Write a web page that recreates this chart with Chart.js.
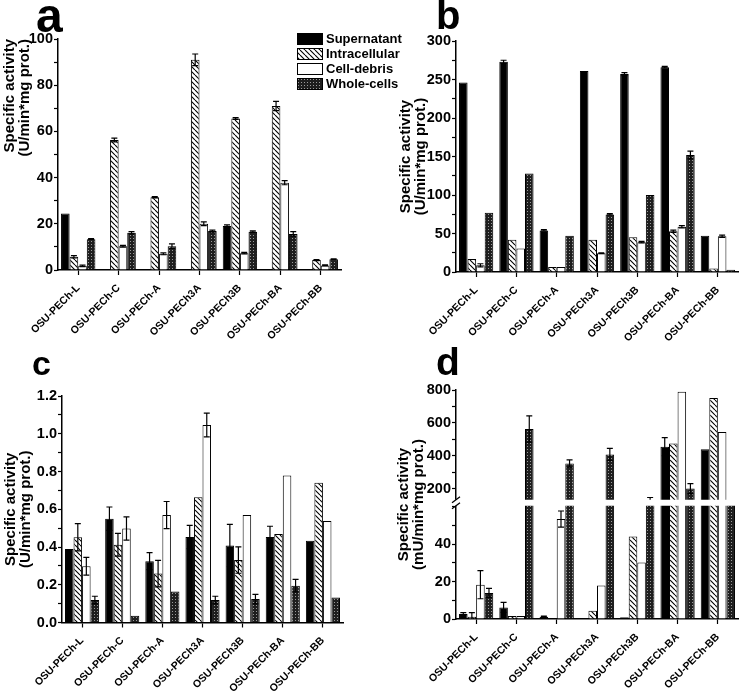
<!DOCTYPE html>
<html>
<head>
<meta charset="utf-8">
<script src="https://cdn.jsdelivr.net/npm/chart.js@4.4.1/dist/chart.umd.min.js"></script>
<style>
  body { margin: 0; background: #fff; }
  #wrap { position: relative; width: 741px; height: 693px; overflow: hidden; }
  canvas { position: absolute; }
  .tag { position: absolute; font-family: Arial, "Liberation Sans", sans-serif; font-weight: bold; line-height: 1; color: #000; }
</style>
</head>
<body>
<div id="wrap">
  <canvas id="chartA" width="420" height="345" style="left:0;top:0"></canvas>
  <canvas id="chartB" width="371" height="345" style="left:370px;top:0"></canvas>
  <canvas id="chartC" width="420" height="353" style="left:0;top:340px"></canvas>
  <canvas id="chartD" width="371" height="353" style="left:370px;top:340px"></canvas>
  <div class="tag" style="left:36px;top:-8px;font-size:48px">a</div>
  <div class="tag" style="left:436px;top:-5px;font-size:40px">b</div>
  <div class="tag" style="left:32px;top:346px;font-size:34px">c</div>
  <div class="tag" style="left:436px;top:342px;font-size:39px">d</div>
</div>
<script>
// strains on the x axis (same for all four panels)
const categories = ['OSU-PECh-L', 'OSU-PECh-C', 'OSU-PECh-A', 'OSU-PECh3A', 'OSU-PECh3B', 'OSU-PECh-BA', 'OSU-PECh-BB'];
const seriesAB = ['Supernatant', 'Intracellular', 'Cell-debris', 'Whole-cells'];
const seriesCD = ['Supernatant', 'Cytosol', 'Cell-debris', 'Whole-cells'];

// panel a  (U/min*mg prot.)
const aSupernatant   = [24.5, 0, 0, 0, 19, 0, 0];
const aIntracellular = [5.7, 56.3, 31.5, 91, 65.6, 71, 4.3];
const aCellDebris    = [1.8, 10.3, 7, 20, 7.3, 37.8, 2];
const aWholeCells    = [13.3, 16.1, 10.3, 16.9, 16.6, 15.6, 4.6];
const aSupErr = [0, 0, 0, 0, 0.5, 0, 0];
const aIntErr = [0.5, 0.8, 0.3, 2.5, 0.4, 2, 0.2];
const aDebErr = [0.3, 0.4, 0.4, 0.8, 0.3, 0.9, 0.2];
const aWhoErr = [0.3, 0.5, 1, 0.4, 0.3, 1, 0.2];

// panel b  (U/min*mg prot.)
const bSupernatant   = [246, 273, 54, 261, 257, 266, 47];
const bIntracellular = [17, 42, 6.5, 42, 45, 53, 4.4];
const bCellDebris    = [8.7, 30.4, 6.5, 24.3, 38.7, 58.7, 46.5];
const bWholeCells    = [77, 128, 47, 74.8, 100, 152, 3];
const bSupErr = [0, 2, 1, 0, 2, 1, 0];
const bIntErr = [0, 0, 0, 0, 0, 1.5, 0];
const bDebErr = [2, 0, 0, 0.5, 1, 1.5, 1.5];
const bWhoErr = [0, 0, 0, 1, 0, 5, 0];

// panel c  (U/min*mg prot.)
const cSupernatant = [0.39, 0.55, 0.325, 0.453, 0.408, 0.453, 0.433];
const cCytosol     = [0.452, 0.412, 0.259, 0.664, 0.331, 0.469, 0.74];
const cCellDebris  = [0.298, 0.498, 0.569, 1.046, 0.569, 0.779, 0.538];
const cWholeCells  = [0.119, 0.036, 0.164, 0.119, 0.124, 0.195, 0.133];
const cSupErr = [0, 0.062, 0.045, 0.062, 0.112, 0.057, 0];
const cCytErr = [0.072, 0.06, 0.07, 0, 0.07, 0, 0];
const cDebErr = [0.047, 0.062, 0.072, 0.063, 0, 0, 0];
const cWhoErr = [0.02, 0, 0, 0.02, 0.025, 0.033, 0];

// panel d  (mU/min*mg prot.), broken y axis
const dSupernatant = [2.7, 6.2, 1.2, 0, 1, 455, 439];
const dCytosol     = [1.2, 1.6, 0, 4.4, 44, 475, 752];
const dCellDebris  = [18.3, 1.6, 53.3, 17.9, 30.2, 790, 544];
const dWholeCells  = [13.9, 563, 353, 408, 128, 200, 130];
const dSupErr = [0.7, 2.7, 0.3, 0, 0, 55, 0];
const dCytErr = [2.2, 0, 0, 0, 0, 0, 0];
const dDebErr = [7.5, 0, 4.3, 0, 0, 0, 0];
const dWhoErr = [2.4, 80, 22, 37, 18, 30, 0];

const FONT = 'Arial, "Liberation Sans", sans-serif';
const NARROW = '"Liberation Sans Narrow", "Arial Narrow", Arial, sans-serif';

function hatch() {
  const s = 5;
  const c = document.createElement('canvas');
  c.width = s; c.height = s;
  const g = c.getContext('2d');
  g.fillStyle = '#fff';
  g.fillRect(0, 0, s, s);
  g.strokeStyle = '#000';
  g.lineWidth = 1.1;
  g.beginPath();
  for (const o of [-s, 0, s]) { g.moveTo(o, 0); g.lineTo(o + s, s); }
  g.stroke();
  return g.createPattern(c, 'repeat');
}

function dots() {
  const c = document.createElement('canvas');
  c.width = 3; c.height = 3;
  const g = c.getContext('2d');
  g.fillStyle = '#1e1e1e';
  g.fillRect(0, 0, 3, 3);
  g.fillStyle = '#9a9a9a';
  g.fillRect(1, 1, 1, 1);
  return g.createPattern(c, 'repeat');
}

const fills = ['#000', hatch(), '#fff', dots()];

function bars(labels, values, errors, extra) {
  return values.map((v, i) => Object.assign({
    label: labels[i],
    data: v,
    errors: errors[i],
    backgroundColor: fills[i],
    borderColor: '#000',
    borderWidth: 1
  }, extra ? extra(i) : {}));
}

// error bars, drawn symmetric over each bar
const errorBars = {
  id: 'errorBars',
  afterDatasetsDraw(chart) {
    const ctx = chart.ctx;
    chart.data.datasets.forEach((ds, i) => {
      if (!ds.errors) return;
      const meta = chart.getDatasetMeta(i);
      const ys = chart.scales[meta.yAxisID];
      ctx.save();
      ctx.beginPath();
      ctx.rect(chart.chartArea.left, ys.top - 20, chart.chartArea.width, ys.bottom - ys.top + 20);
      ctx.clip();
      ctx.strokeStyle = '#000';
      ctx.lineWidth = 1.2;
      meta.data.forEach((bar, j) => {
        const v = ds.data[j], e = ds.errors[j];
        if (!e || v > ys.max || v < ys.min) return;
        const hi = ys.getPixelForValue(v + e), lo = ys.getPixelForValue(v - e);
        const half = Math.min(3, bar.width / 2 - 1);
        ctx.beginPath();
        ctx.moveTo(bar.x, lo); ctx.lineTo(bar.x, hi);
        ctx.moveTo(bar.x - half, hi); ctx.lineTo(bar.x + half, hi);
        ctx.moveTo(bar.x - half, lo); ctx.lineTo(bar.x + half, lo);
        ctx.stroke();
      });
      ctx.restore();
    });
  }
};

function boxLegend(x, y) {
  return {
    id: 'boxLegend',
    afterDraw(chart) {
      const ctx = chart.ctx;
      ctx.save();
      ctx.font = 'bold 13px ' + FONT;
      ctx.textBaseline = 'middle';
      chart.data.datasets.slice(0, 4).forEach((ds, i) => {
        const top = y + i * 15;
        ctx.fillStyle = ds.backgroundColor;
        ctx.fillRect(x, top, 26, 12);
        ctx.strokeStyle = '#000';
        ctx.lineWidth = 1;
        ctx.strokeRect(x + 0.5, top + 0.5, 25, 11);
        ctx.fillStyle = '#000';
        ctx.fillText(ds.label, x + 29, top + 6.5);
      });
      ctx.restore();
    }
  };
}

// white gap and // marks where the d axis is broken
const axisBreak = {
  id: 'axisBreak',
  afterDatasetsDraw(chart) {
    const ctx = chart.ctx;
    const top = chart.scales.yTop, bot = chart.scales.yBot;
    const yb = (top.bottom + bot.top) / 2;
    const x = chart.chartArea.left;
    ctx.save();
    ctx.fillStyle = '#fff';
    ctx.fillRect(x - 2, yb - 3, chart.chartArea.right - x + 4, 6);
    ctx.strokeStyle = '#000';
    ctx.lineWidth = 1.3;
    ctx.beginPath();
    for (const y of [yb - 3, yb + 3]) { ctx.moveTo(x - 4, y + 3); ctx.lineTo(x + 4, y - 3); }
    ctx.stroke();
    ctx.restore();
  }
};

function xAxis(h) {
  return {
    type: 'category',
    offset: true,
    grid: { offset: false, drawOnChartArea: false, color: '#000', tickLength: 5, tickWidth: 1.2 },
    border: { color: '#000', width: 1.5 },
    ticks: { autoSkip: false, maxRotation: 45, minRotation: 45, padding: 7, color: '#000',
             font: { family: NARROW, size: 10.5, weight: 'bold' } },
    afterFit: s => { s.height = h; }
  };
}

// labelled every `major`, unlabelled minor tick every `step`, no label above `labelMax`
function yAxis(min, max, step, major, digits, w, extra, labelMax) {
  const top = labelMax === undefined ? Infinity : labelMax;
  return Object.assign({
    min, max,
    grid: { drawOnChartArea: false, color: '#000', tickLength: 4, tickWidth: 1.2 },
    border: { color: '#000', width: 1.5 },
    ticks: {
      stepSize: step, padding: 1, color: '#000', autoSkip: false, includeBounds: false,
      font: { family: FONT, size: 14.5, weight: 'bold' },
      callback: v => (v <= top && Math.abs(v / major - Math.round(v / major)) < 1e-6) ? v.toFixed(digits) : ''
    },
    afterFit: s => { s.width = w; }
  }, extra || {});
}

function yTitle(lines, align, pad) {
  return { display: true, text: lines, align, color: '#000', padding: { top: pad, bottom: 0 },
           font: { family: FONT, size: 15, weight: 'bold', lineHeight: 1 } };
}

const base = {
  responsive: false,
  animation: false,
  plugins: { legend: { display: false }, tooltip: { enabled: false } },
  datasets: { bar: { categoryPercentage: 0.85, barPercentage: 1 } }
};

const titleU = ['Specific activity', '(U/min*mg prot.)'];

new Chart(document.getElementById('chartA'), {
  type: 'bar',
  data: { labels: categories,
          datasets: bars(seriesAB, [aSupernatant, aIntracellular, aCellDebris, aWholeCells], [aSupErr, aIntErr, aDebErr, aWhoErr]) },
  options: Object.assign({}, base, {
    layout: { padding: { left: 0, top: 39, right: 79, bottom: 0 } },
    scales: { x: xAxis(75), y: yAxis(0, 100, 10, 20, 0, 58, { title: yTitle(titleU, 'end', 2) }) }
  }),
  plugins: [errorBars, boxLegend(297, 33)]
});

new Chart(document.getElementById('chartB'), {
  type: 'bar',
  data: { labels: categories,
          datasets: bars(seriesAB, [bSupernatant, bIntracellular, bCellDebris, bWholeCells], [bSupErr, bIntErr, bDebErr, bWhoErr]) },
  options: Object.assign({}, base, {
    layout: { padding: { left: 28, top: 41, right: 3, bottom: 0 } },
    scales: { x: xAxis(73), y: yAxis(0, 300, 25, 50, 0, 58, { title: yTitle(titleU, 'center', 0) }) }
  }),
  plugins: [errorBars]
});

new Chart(document.getElementById('chartC'), {
  type: 'bar',
  data: { labels: categories,
          datasets: bars(seriesCD, [cSupernatant, cCytosol, cCellDebris, cWholeCells], [cSupErr, cCytErr, cDebErr, cWhoErr]) },
  options: Object.assign({}, base, {
    layout: { padding: { left: 0, top: 56, right: 77, bottom: 0 } },
    scales: { x: xAxis(70.5), y: yAxis(0, 1.2, 0.1, 0.2, 1, 62, { title: yTitle(titleU, 'center', 3) }) }
  }),
  plugins: [errorBars, boxLegend(298, 382)]
});

// panel d: the same series twice, on a lower (0-62) and an upper (114-800) segment
const dValues = [dSupernatant, dCytosol, dCellDebris, dWholeCells];
const dErrors = [dSupErr, dCytErr, dDebErr, dWhoErr];
new Chart(document.getElementById('chartD'), {
  type: 'bar',
  data: { labels: categories,
          datasets: bars(seriesCD, dValues, dErrors, i => ({ yAxisID: 'yBot', stack: 's' + i, clip: 0 }))
            .concat(bars(seriesCD, dValues, dErrors, i => ({ yAxisID: 'yTop', stack: 's' + i, clip: 0 }))) },
  options: Object.assign({}, base, {
    layout: { padding: { left: 26, top: 50, right: 3, bottom: 0 } },
    scales: {
      x: xAxis(74),
      yBot: yAxis(0, 62, 10, 20, 0, 30, { position: 'left', stack: 'd', stackWeight: 1.031 }, 40),
      yTop: yAxis(114, 800, 100, 200, 0, 30, { position: 'left', stack: 'd', stackWeight: 1 }),
      yTitle: {
        position: 'left', min: 0, max: 1,
        ticks: { display: false }, grid: { display: false }, border: { display: false },
        title: yTitle(['Specific activity', '(mU/min*mg prot.)'], 'center', 0),
        afterFit: s => { s.width = 30; }
      }
    }
  }),
  plugins: [errorBars, axisBreak]
});
</script>
</body>
</html>
